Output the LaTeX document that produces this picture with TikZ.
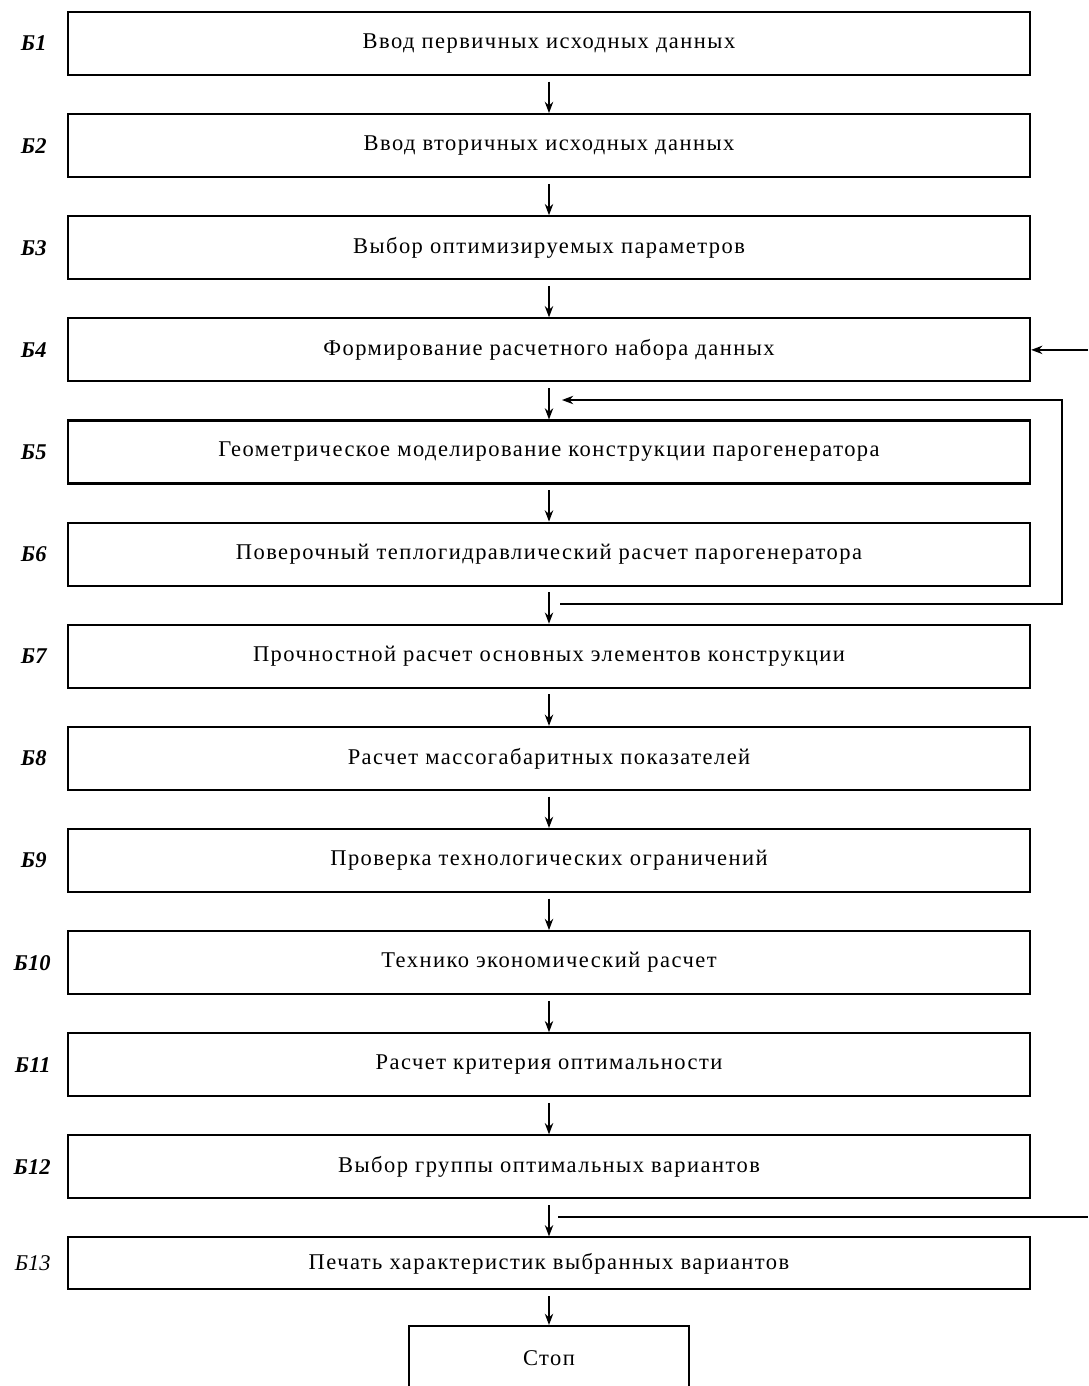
\documentclass[tikz,border=0pt]{standalone}
\usepackage{fontspec}
\setmainfont{Liberation Serif}
\newfontfamily\boxfont[LetterSpace=6.5]{Liberation Serif}
\usetikzlibrary{positioning}
\usetikzlibrary{arrows.meta}
\tikzstyle{blk} = [rectangle, minimum width=24.05cm, minimum height=1.575cm, text centered, draw=black, line width=1.5pt, font=\boxfont\fontsize{16}{19}\selectfont]
\tikzstyle{lbl} = [font=\bfseries\itshape\fontsize{16}{19}\selectfont, inner sep=0pt]
\tikzstyle{arrow} = [line width=0.9pt,-{Stealth[length=8pt,width=6pt]}]
\tikzstyle{line} = [line width=0.9pt]

\begin{document}
\begin{tikzpicture}[x=0.025cm, y=-0.025cm, node distance=2.5525cm]
\clip (0,0) rectangle (1088,1386);
\node (B1) [blk] at (549,43.5) {Ввод первичных исходных данных};
\node (B2) [blk, below of=B1] {Ввод вторичных исходных данных};
\node (B3) [blk, below of=B2] {Выбор оптимизируемых параметров};
\node (B4) [blk, below of=B3] {Формирование расчетного набора данных};
\node (B5) [blk, below of=B4] {Геометрическое моделирование конструкции парогенератора};
\node (B6) [blk, below of=B5] {Поверочный теплогидравлический расчет парогенератора};
\node (B7) [blk, below of=B6] {Прочностной расчет основных элементов конструкции};
\node (B8) [blk, below of=B7] {Расчет массогабаритных показателей};
\node (B9) [blk, below of=B8] {Проверка технологических ограничений};
\node (B10) [blk, below of=B9] {Технико экономический расчет};
\node (B11) [blk, below of=B10] {Расчет критерия оптимальности};
\node (B12) [blk, below of=B11] {Выбор группы оптимальных вариантов};
\node (B13) [blk, minimum height=1.3cm, below of=B12, node distance=2.4125cm] {Печать характеристик выбранных вариантов};
\node (stop) [blk, minimum width=7cm, minimum height=1.6cm] at (549,1358) {Стоп};

\node (L1) [lbl, left=0.5cm of B1] {Б1};
\node (L2) [lbl, left=0.5cm of B2] {Б2};
\node (L3) [lbl, left=0.5cm of B3] {Б3};
\node (L4) [lbl, left=0.5cm of B4] {Б4};
\node (L5) [lbl, left=0.5cm of B5] {Б5};
\node (L6) [lbl, left=0.5cm of B6] {Б6};
\node (L7) [lbl, left=0.5cm of B7] {Б7};
\node (L8) [lbl, left=0.5cm of B8] {Б8};
\node (L9) [lbl, left=0.5cm of B9] {Б9};
\node (L10) [lbl, left=0.4cm of B10] {Б10};
\node (L11) [lbl, left=0.4cm of B11] {Б11};
\node (L12) [lbl, left=0.4cm of B12] {Б12};
\node (L13) [lbl, font=\itshape\fontsize{16}{19}\selectfont, left=0.4cm of B13] {Б13};

\draw [arrow] ([yshift=-4pt]B1.south) -- (B2.north);
\draw [arrow] ([yshift=-4pt]B2.south) -- (B3.north);
\draw [arrow] ([yshift=-4pt]B3.south) -- (B4.north);
\draw [arrow] ([yshift=-4pt]B4.south) -- (B5.north);
\draw [arrow] ([yshift=-4pt]B5.south) -- (B6.north);
\draw [arrow] ([yshift=-4pt]B6.south) -- (B7.north);
\draw [arrow] ([yshift=-4pt]B7.south) -- (B8.north);
\draw [arrow] ([yshift=-4pt]B8.south) -- (B9.north);
\draw [arrow] ([yshift=-4pt]B9.south) -- (B10.north);
\draw [arrow] ([yshift=-4pt]B10.south) -- (B11.north);
\draw [arrow] ([yshift=-4pt]B11.south) -- (B12.north);
\draw [arrow] ([yshift=-4pt]B12.south) -- (B13.north);
\draw [arrow] ([yshift=-4pt]B13.south) -- (stop.north);

% return loop B6 -> B5
\coordinate (fb6) at (560,604);
\coordinate (fb5) at (562,400);
\coordinate (loopx) at (1062,0);
\draw [arrow] (fb6) -- (fb6 -| loopx) -- (fb5 -| loopx) -- (fb5);

% lines leaving the picture
\coordinate (in4) at (1088,0);
\draw [arrow] (B4.east -| in4) -- (B4.east);
\coordinate (out12a) at (558,1217);
\coordinate (out12b) at (1088,1217);
\draw [line] (out12a) -- (out12b);
\end{tikzpicture}
\end{document}
